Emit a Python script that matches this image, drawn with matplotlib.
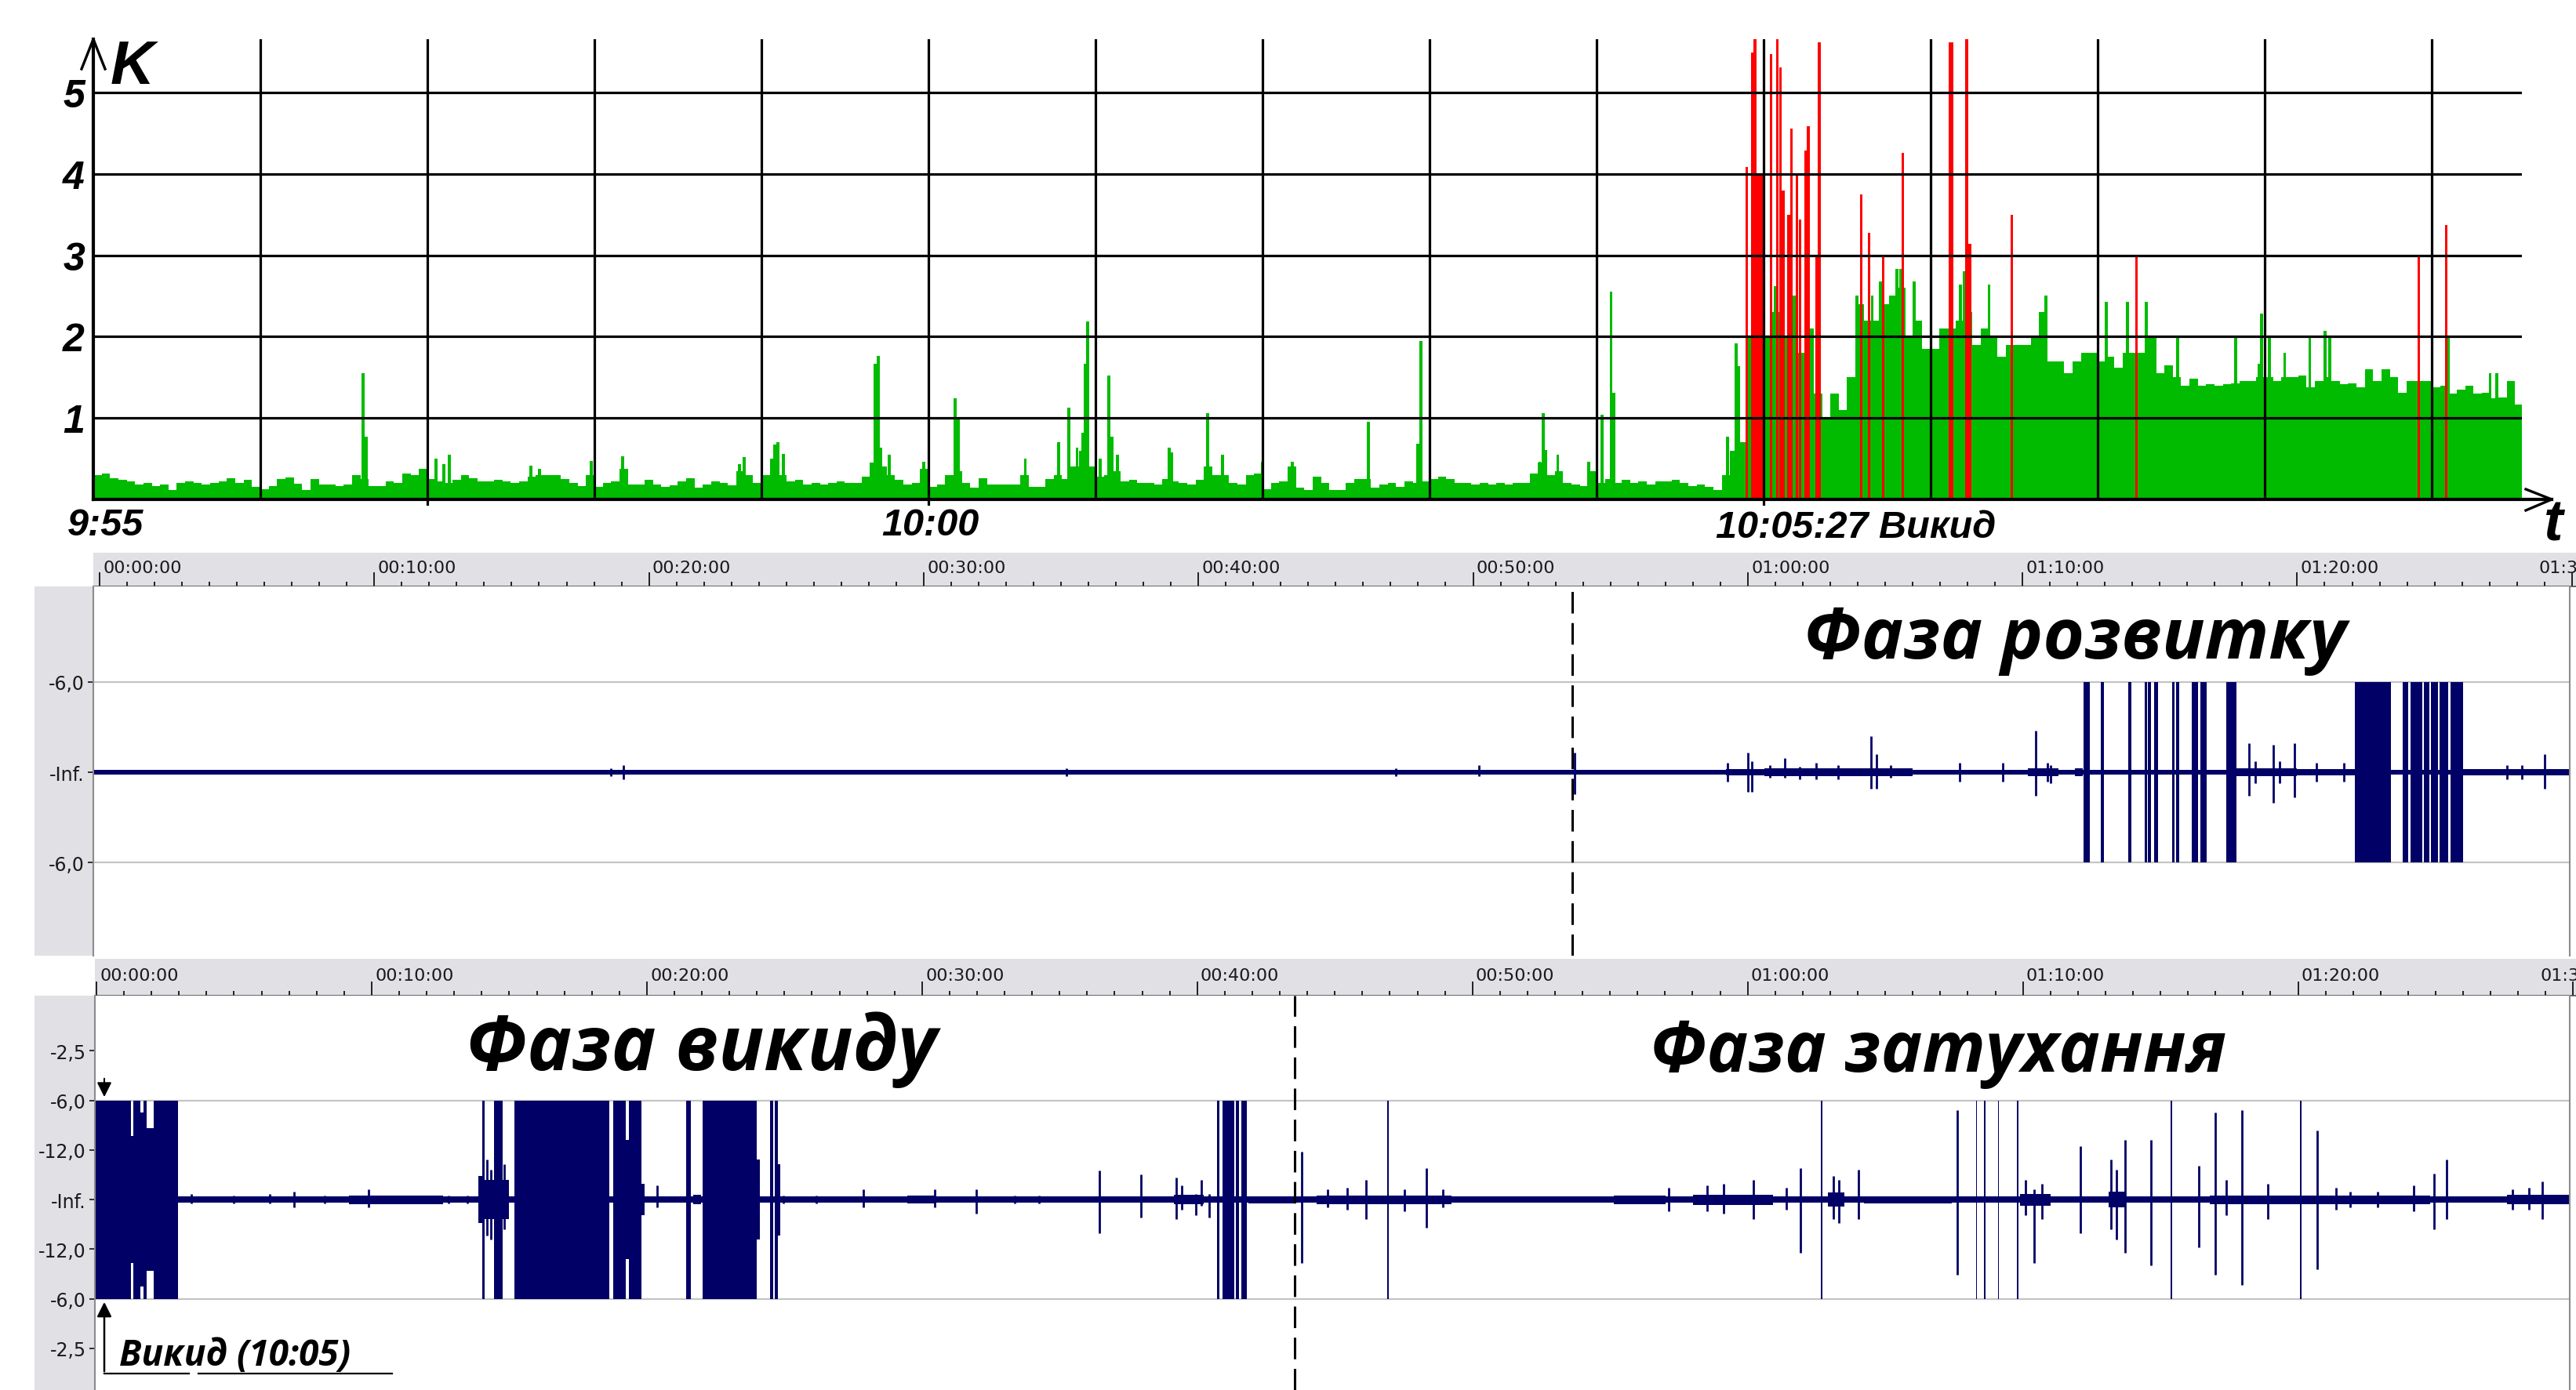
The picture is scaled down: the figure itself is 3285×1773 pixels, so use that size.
import numpy as np
import matplotlib
matplotlib.use("Agg")
import matplotlib.pyplot as plt
from matplotlib.patches import Rectangle

W, H = 3285, 1774
GREEN = "#00bb00"
RED = "#ff0000"
NAVY = "#000066"
PANEL_GRAY = "#e0e0e5"

plt.rcParams['font.family'] = ['DejaVu Sans']

# ---------------------------------------------------------------------------
# K index (top chart); time in minutes after 9:55, bins of 3 s (0.05 min)
# ---------------------------------------------------------------------------
k_bin = 0.05
k_green = [
    0.30, 0.32, 0.26, 0.24, 0.22, 0.18, 0.20, 0.16, 0.18, 0.12, 0.20, 0.22, 0.20, 0.18, 0.20, 0.22, 0.26, 0.20, 0.24, 0.15,
    0.13, 0.16, 0.25, 0.27, 0.19, 0.12, 0.25, 0.18, 0.18, 0.16, 0.18, 0.30, 0.25, 0.16, 0.16, 0.22, 0.20, 0.32, 0.30, 0.38,
    0.25, 0.22, 0.20, 0.24, 0.30, 0.26, 0.22, 0.22, 0.24, 0.22, 0.20, 0.22, 0.28, 0.30, 0.30, 0.30, 0.25, 0.20, 0.16, 0.30,
    0.15, 0.20, 0.22, 0.38, 0.18, 0.18, 0.24, 0.18, 0.15, 0.17, 0.22, 0.26, 0.14, 0.18, 0.22, 0.20, 0.17, 0.35, 0.30, 0.20,
    0.30, 0.50, 0.30, 0.22, 0.24, 0.18, 0.20, 0.18, 0.20, 0.22, 0.20, 0.20, 0.28, 0.45, 0.40, 0.30, 0.24, 0.18, 0.20, 0.38,
    0.15, 0.18, 0.30, 0.35, 0.20, 0.14, 0.26, 0.18, 0.18, 0.18, 0.18, 0.30, 0.15, 0.15, 0.25, 0.30, 0.25, 0.40, 0.60, 0.40,
    0.28, 0.30, 0.35, 0.22, 0.24, 0.20, 0.20, 0.18, 0.25, 0.22, 0.20, 0.18, 0.24, 0.40, 0.30, 0.30, 0.20, 0.18, 0.30, 0.32,
    0.13, 0.20, 0.22, 0.40, 0.14, 0.12, 0.28, 0.20, 0.12, 0.12, 0.20, 0.25, 0.25, 0.14, 0.18, 0.20, 0.15, 0.22, 0.20, 0.22,
    0.25, 0.28, 0.25, 0.20, 0.20, 0.18, 0.20, 0.18, 0.20, 0.18, 0.20, 0.20, 0.32, 0.45, 0.30, 0.35, 0.20, 0.18, 0.16, 0.35,
    0.20, 0.25, 0.20, 0.24, 0.20, 0.22, 0.18, 0.22, 0.22, 0.24, 0.20, 0.16, 0.18, 0.15, 0.12, 0.30, 0.60, 0.70, 2.00, 2.00,
    2.00, 2.30, 2.00, 2.50, 1.80, 2.10, 1.30, 1.00, 1.30, 1.10, 1.50, 2.40, 2.20, 2.20, 2.40, 2.50, 2.60, 2.00, 2.20, 1.85,
    1.85, 2.10, 2.10, 2.20, 2.30, 1.90, 2.10, 2.00, 1.75, 1.90, 1.90, 1.90, 2.00, 2.30, 1.70, 1.70, 1.55, 1.70, 1.80, 1.80,
    1.70, 1.75, 1.62, 1.80, 1.80, 1.80, 2.00, 1.55, 1.65, 1.50, 1.40, 1.48, 1.40, 1.42, 1.40, 1.42, 1.43, 1.45, 1.45, 1.50,
    1.50, 1.45, 1.50, 1.50, 1.52, 1.38, 1.45, 1.50, 1.45, 1.42, 1.43, 1.38, 1.60, 1.45, 1.60, 1.50, 1.31, 1.45, 1.45, 1.45,
    1.38, 1.40, 1.30, 1.35, 1.40, 1.30, 1.31, 1.24, 1.25, 1.45, 1.17,
]
# single tall green bars
k_spike_t = [1.615, 1.632, 2.05, 2.10, 2.13, 2.62, 2.67, 2.98, 3.17, 3.87, 3.897, 4.08, 4.10, 4.132,
             4.68, 4.698, 4.715, 4.765, 4.97, 5.16, 5.178, 5.58, 5.78, 5.84, 5.89, 5.925, 5.94, 5.955,
             6.03, 6.08, 6.097, 6.13, 6.44, 6.455, 6.67, 6.76, 7.0, 7.18, 7.633, 7.93, 7.947,
             8.66, 8.679, 8.696, 8.768, 8.955, 9.032, 9.087, 9.104, 9.783, 9.819, 9.836, 9.85, 9.88,
             10.07, 10.56, 10.65, 10.70, 10.80, 10.82, 10.90, 11.18, 11.20, 11.35, 11.69, 12.05, 12.18,
             12.29, 12.48, 12.825, 12.965, 12.98, 13.03, 13.12, 13.27, 13.36, 13.39, 14.10, 14.35, 14.39]
k_spike_v = [1.55, 0.77, 0.50, 0.43, 0.55, 0.41, 0.38, 0.47, 0.53, 0.43, 0.52, 0.67, 0.70, 0.56,
             1.67, 1.76, 0.64, 0.55, 0.46, 1.24, 0.98, 0.50, 0.70, 1.13, 0.64, 0.82, 1.67, 2.19,
             0.50, 1.52, 0.77, 0.55, 0.64, 0.58, 1.06, 0.55, 0.46, 0.46, 0.95, 0.68, 1.95,
             0.46, 1.06, 0.61, 0.55, 0.46, 1.04, 2.55, 1.31, 0.77, 0.59, 1.92, 1.64, 0.68,
             2.62, 2.50, 2.50, 2.68, 2.83, 2.83, 2.68, 2.64, 2.80, 2.64, 2.50, 2.43, 2.43,
             2.43, 1.99, 1.99, 1.67, 2.28, 1.99, 1.80, 1.99, 2.07, 1.99, 1.99, 1.55, 1.55]
# red (anomalous) bars
k_red_t = [9.900, 9.932, 9.948, 9.978, 10.045, 10.083, 10.100, 10.118, 10.149, 10.168, 10.200, 10.217,
           10.250, 10.267, 10.317, 10.334, 10.584, 10.632, 10.716, 10.834, 11.122, 11.216, 11.235,
           11.485, 12.232, 13.923, 14.086]
k_red_v = [4.08, 5.49, 5.80, 4.00, 5.47, 5.80, 5.31, 3.80, 3.50, 4.56, 4.00, 3.44,
           4.29, 4.59, 3.00, 5.62, 3.75, 3.28, 3.00, 4.26, 5.62, 5.80, 3.14,
           3.50, 3.00, 3.00, 3.37]
k_red_w = [0.015, 0.015, 0.015, 0.040, 0.016, 0.016, 0.015, 0.017, 0.017, 0.016, 0.016, 0.015,
           0.016, 0.016, 0.016, 0.016, 0.013, 0.016, 0.016, 0.016, 0.030, 0.016, 0.020,
           0.016, 0.012, 0.012, 0.012]
k_ticks = [1, 2, 3, 4, 5]
k_minutes = list(range(1, 15))
k_marks = [2, 5, 10]

# ---------------------------------------------------------------------------
# waveforms (time in minutes of the recording, amplitude 1 = full scale)
# ---------------------------------------------------------------------------
ruler_major = [0, 10, 20, 30, 40, 50, 60, 70, 80, 90]
ruler_labels = ["00:00:00", "00:10:00", "00:20:00", "00:30:00", "00:40:00",
                "00:50:00", "01:00:00", "01:10:00", "01:20:00", "01:30:00"]
clip_amp = 0.5

mid_ticks = [0.5, 0.0, -0.5]
mid_ticklabels = ["-6,0", "-Inf.", "-6,0"]
mid_bands = [(-0.3, 90.0, 0.013), (59.2, 60.6, 0.018), (60.6, 64.2, 0.02), (64.2, 66.0, 0.02),
             (70.2, 71.3, 0.022), (71.9, 72.2, 0.022), (77.8, 80.0, 0.022), (80.0, 82.1, 0.017),
             (86.0, 90.0, 0.018)]
mid_sat = [(72.22, 72.45), (72.85, 72.97), (73.85, 73.96), (74.45, 74.53), (74.57, 74.67),
           (74.80, 74.93), (75.45, 75.52), (75.58, 75.70), (76.15, 76.40), (76.48, 76.70),
           (77.42, 77.78), (82.10, 83.40), (83.85, 84.05), (84.13, 84.55), (84.60, 84.80),
           (84.86, 85.13), (85.19, 85.50), (85.57, 86.03)]
mid_spikes = [(18.6, 0.02, 0.02), (19.07, 0.04, 0.04), (35.2, 0.02, 0.02), (47.2, 0.02, 0.02),
              (50.2, 0.04, 0.02), (53.7, 0.11, 0.12), (59.27, 0.05, 0.05), (60.0, 0.11, 0.11),
              (60.14, 0.06, 0.11), (60.8, 0.04, 0.03), (61.35, 0.08, 0.03), (61.9, 0.03, 0.04),
              (62.5, 0.05, 0.04), (63.3, 0.04, 0.04), (64.49, 0.20, 0.09), (64.68, 0.10, 0.09),
              (65.2, 0.04, 0.03), (67.7, 0.05, 0.05), (69.27, 0.05, 0.05), (70.49, 0.23, 0.13),
              (70.9, 0.05, 0.05), (71.03, 0.04, 0.06), (78.24, 0.16, 0.13), (78.46, 0.06, 0.06),
              (79.14, 0.15, 0.17), (79.35, 0.06, 0.06), (79.89, 0.16, 0.14), (80.7, 0.05, 0.05),
              (81.7, 0.05, 0.05), (87.65, 0.04, 0.04), (88.19, 0.04, 0.04), (89.0, 0.10, 0.09)]
mid_phase_m = 53.6

bot_ticks = [0.75, 0.5, 0.25, 0.0, -0.25, -0.5, -0.75]
bot_ticklabels = ["-2,5", "-6,0", "-12,0", "-Inf.", "-12,0", "-6,0", "-2,5"]
bot_bands = [(-0.1, 90.0, 0.015), (1.25, 1.33, 0.32), (1.60, 1.70, 0.44), (1.82, 2.07, 0.36),
             (9.2, 12.6, 0.022), (13.9, 14.03, 0.12), (14.13, 14.47, 0.10), (14.77, 15.0, 0.10),
             (19.25, 19.38, 0.30), (19.82, 19.95, 0.08), (21.7, 22.0, 0.025), (24.02, 24.14, 0.20),
             (24.8, 24.87, 0.18), (29.5, 30.55, 0.02), (39.2, 40.3, 0.024), (41.9, 43.6, 0.018),
             (44.4, 49.3, 0.022), (55.2, 57.1, 0.022), (58.1, 61.0, 0.026), (63.0, 63.6, 0.035),
             (64.3, 67.5, 0.018), (70.0, 71.1, 0.03), (73.2, 73.8, 0.04), (76.9, 84.9, 0.022),
             (87.7, 90.0, 0.024)]
bot_sat = [(-0.06, 1.25), (1.33, 1.60), (1.70, 1.82), (2.07, 2.97), (14.03, 14.13), (14.47, 14.77),
           (15.2, 18.67), (18.79, 19.25), (19.38, 19.82), (21.45, 21.63), (22.05, 24.02),
           (24.50, 24.62), (24.67, 24.80), (40.76, 40.86), (40.97, 41.41), (41.46, 41.57),
           (41.67, 41.87), (46.97, 47.03), (62.74, 62.80), (68.38, 68.43), (68.67, 68.72),
           (69.18, 69.23), (69.88, 69.93), (75.47, 75.53), (80.17, 80.23)]
bot_spikes = [(3.45, 0.03, 0.02), (5.0, 0.02, 0.02), (6.3, 0.03, 0.02), (7.2, 0.04, 0.04),
              (8.3, 0.02, 0.02), (9.9, 0.05, 0.04), (12.8, 0.02, 0.02), (13.5, 0.02, 0.02),
              (14.2, 0.2, 0.18), (14.35, 0.15, 0.2), (14.85, 0.18, 0.15),
              (20.4, 0.07, 0.04), (25.0, 0.02, 0.02), (26.2, 0.02, 0.02), (27.9, 0.05, 0.04),
              (30.5, 0.05, 0.04), (32.0, 0.05, 0.07), (33.4, 0.02, 0.02), (34.3, 0.02, 0.02),
              (36.5, 0.145, 0.17), (38.0, 0.125, 0.09), (39.3, 0.11, 0.10), (39.5, 0.07, 0.05),
              (40.0, 0.03, 0.08), (40.2, 0.10, 0.03), (40.5, 0.03, 0.09), (43.85, 0.24, 0.32),
              (44.8, 0.05, 0.04), (45.5, 0.06, 0.05), (46.2, 0.10, 0.10), (47.6, 0.05, 0.06),
              (48.4, 0.16, 0.14), (49.0, 0.05, 0.04), (57.2, 0.06, 0.06), (58.6, 0.07, 0.06),
              (59.2, 0.08, 0.07), (60.3, 0.10, 0.10), (61.5, 0.06, 0.05), (62.0, 0.16, 0.27),
              (63.2, 0.12, 0.10), (63.4, 0.10, 0.12), (64.1, 0.15, 0.10), (67.7, 0.45, 0.38),
              (70.2, 0.10, 0.08), (70.5, 0.05, 0.32), (70.8, 0.08, 0.10), (72.2, 0.27, 0.17),
              (73.3, 0.20, 0.15), (73.5, 0.15, 0.20), (73.8, 0.30, 0.27), (74.75, 0.30, 0.33),
              (76.5, 0.17, 0.24), (77.1, 0.44, 0.38), (77.5, 0.10, 0.08), (78.06, 0.45, 0.43),
              (79.0, 0.08, 0.10), (80.8, 0.35, 0.35), (81.5, 0.06, 0.05), (82.0, 0.04, 0.04),
              (83.0, 0.04, 0.04), (84.3, 0.07, 0.06), (85.05, 0.13, 0.15), (85.5, 0.20, 0.10),
              (87.9, 0.05, 0.05), (88.5, 0.06, 0.05), (89.0, 0.09, 0.10)]
bot_phase_m = 43.6

# ---------------------------------------------------------------------------
fig = plt.figure(figsize=(W / 100, H / 100), dpi=100)


def px_axes(x0, y0, x1, y1):
    return fig.add_axes([x0 / W, 1 - y1 / H, (x1 - x0) / W, (y1 - y0) / H])


BI = dict(family='Liberation Sans', fontweight='bold', fontstyle='italic')
BIG = dict(family=['Open Sans', 'DejaVu Sans'], fontweight='bold', fontstyle='italic')

# ---- top chart
ax = px_axes(119, 51, 3216, 638)
ax.set_xlim(0, 14.54)
ax.set_ylim(0, 5.655)
for s in ax.spines.values():
    s.set_visible(False)
ax.set_xticks([])
ax.set_yticks(k_ticks)
ax.set_yticklabels([str(k) for k in k_ticks], fontsize=36, **BI)
ax.tick_params(axis='y', length=0, pad=8)
t_bins = np.arange(len(k_green)) * k_bin + k_bin / 2
ax.bar(t_bins, k_green, width=k_bin, color=GREEN, linewidth=0, zorder=1)
ax.bar(k_spike_t, k_spike_v, width=0.018, color=GREEN, linewidth=0, zorder=1)
ax.bar(k_red_t, k_red_v, width=k_red_w, color=RED, linewidth=0, zorder=2)
for k in k_ticks:
    ax.axhline(k, color='k', lw=2.3, zorder=3)
for t in k_minutes:
    ax.axvline(t, color='k', lw=2.3, zorder=3)
for t in k_marks:
    ax.plot([t, t], [0, -0.06], color='k', lw=2.3, clip_on=False)
ax.plot([0, 14.72], [0, 0], color='k', lw=3.0, clip_on=False, zorder=4)
ax.plot([0, 0], [0, 5.655], color='k', lw=3.0, clip_on=False, zorder=4)


# ---- time rulers and waveform panels
def ruler(x0, y0, x1, y1, m0, m1):
    r = px_axes(x0, y0, x1, y1)
    r.set_facecolor(PANEL_GRAY)
    r.set_xlim(m0, m1)
    r.set_ylim(0, 1)
    r.set_yticks([])
    for side in ('top', 'left', 'right'):
        r.spines[side].set_visible(False)
    r.spines['bottom'].set_color('#505050')
    r.spines['bottom'].set_linewidth(1.2)
    r.set_xticks(ruler_major)
    r.set_xticks(np.arange(0, 91, 1), minor=True)
    r.tick_params(axis='x', which='both', direction='in', labelbottom=False,
                  color='#202020', width=1.4)
    r.tick_params(axis='x', which='major', length=13)
    r.tick_params(axis='x', which='minor', length=4)
    for m, lab in zip(ruler_major, ruler_labels):
        xm = m + 0.12 if m < 90 else m - 1.2
        r.text(xm, 0.55, lab, ha='left', va='center', fontsize=16, color='#1a1a1a')
    return r


def wave(x0, y0, x1, y1, m0, m1, a0, a1, ticks, labels, bands, sat, spikes, phase_m):
    fig.add_artist(Rectangle((44 / W, 1 - y1 / H), (x0 - 44) / W, (y1 - y0) / H,
                             transform=fig.transFigure, facecolor=PANEL_GRAY,
                             edgecolor='none', zorder=-1))
    a = px_axes(x0, y0, x1, y1)
    a.set_xlim(m0, m1)
    a.set_ylim(a0, a1)
    a.set_xticks([])
    a.set_yticks(ticks)
    a.set_yticklabels(labels, fontsize=17, color='#1a1a1a')
    a.tick_params(axis='y', length=5, width=1.4, pad=3, color='#303030')
    for side in ('top', 'bottom'):
        a.spines[side].set_visible(False)
    for side in ('left', 'right'):
        a.spines[side].set_color('#8c8c8c')
        a.spines[side].set_linewidth(1.5)
    for lvl in (clip_amp, -clip_amp):
        a.axhline(lvl, color='#c4c4c4', lw=1.6, zorder=0)
    bs, be, ba = zip(*bands)
    bs, be, ba = np.array(bs), np.array(be), np.array(ba)
    a.bar(bs, ba * 2, width=be - bs, bottom=-ba, align='edge', color=NAVY, linewidth=0, zorder=2)
    ss, se = zip(*sat)
    ss, se = np.array(ss), np.array(se)
    a.bar(ss, 2 * clip_amp, width=se - ss, bottom=-clip_amp, align='edge', color=NAVY,
          linewidth=0, zorder=2)
    st, su, sd = zip(*spikes)
    a.vlines(st, -np.array(sd), np.array(su), color=NAVY, lw=2.0, zorder=2)
    a.axvline(phase_m, color='k', lw=2.2, dashes=(9, 4), zorder=5)
    return a


ruler(119, 706, 3285, 749, -0.228, 90.15)
wave(119, 749, 3277, 1220, -0.228, 89.92, -1.013, 1.026, mid_ticks, mid_ticklabels,
     mid_bands, mid_sat, mid_spikes, mid_phase_m)
ruler(121, 1224, 3285, 1271, -0.057, 90.1)
wave(121, 1271, 3277, 1774, -0.057, 89.99, -0.960, 1.028, bot_ticks, bot_ticklabels,
     bot_bands, bot_sat, bot_spikes, bot_phase_m)

# ---- annotations in pixel coordinates
ov = fig.add_axes([0, 0, 1, 1], zorder=10)
ov.set_xlim(0, W)
ov.set_ylim(H, 0)
ov.axis('off')
ov.patch.set_alpha(0)

ov.plot([104, 119, 134], [89, 51, 89], color='k', lw=2.4)
ov.plot([3221, 3254, 3221], [625, 638, 652], color='k', lw=2.4)
ov.text(141, 107, "K", ha='left', va='baseline', fontsize=56, **BI)
ov.text(3244, 690, "t", ha='left', va='baseline', fontsize=53, **BI)
ov.text(134, 683, "9:55", ha='center', va='baseline', fontsize=35, **BI)
ov.text(1186, 683, "10:00", ha='center', va='baseline', fontsize=35, **BI)
ov.text(2188, 686, "10:05:27 Викид", ha='left', va='baseline', fontsize=35, **BI)

ov.text(2300, 840, "Фаза розвитку", ha='left', va='baseline', fontsize=65, **BIG)
ov.text(594, 1365, "Фаза викиду", ha='left', va='baseline', fontsize=69, **BIG)
ov.text(2104, 1367, "Фаза затухання", ha='left', va='baseline', fontsize=64, **BIG)

ov.annotate('', xy=(133, 1403), xytext=(133, 1374),
            arrowprops=dict(arrowstyle='-|>', color='k', lw=1.5, mutation_scale=28))
ov.annotate('', xy=(133, 1659), xytext=(133, 1753),
            arrowprops=dict(arrowstyle='-|>', color='k', lw=1.8, mutation_scale=28))
ov.plot([133, 241], [1753, 1753], color='k', lw=1.6)
ov.plot([253, 500], [1753, 1753], color='k', lw=1.6)
ov.text(152, 1742, "Викид (10:05)", ha='left', va='baseline', fontsize=33, **BIG)

fig.savefig("out.png", dpi=100, facecolor='white')
